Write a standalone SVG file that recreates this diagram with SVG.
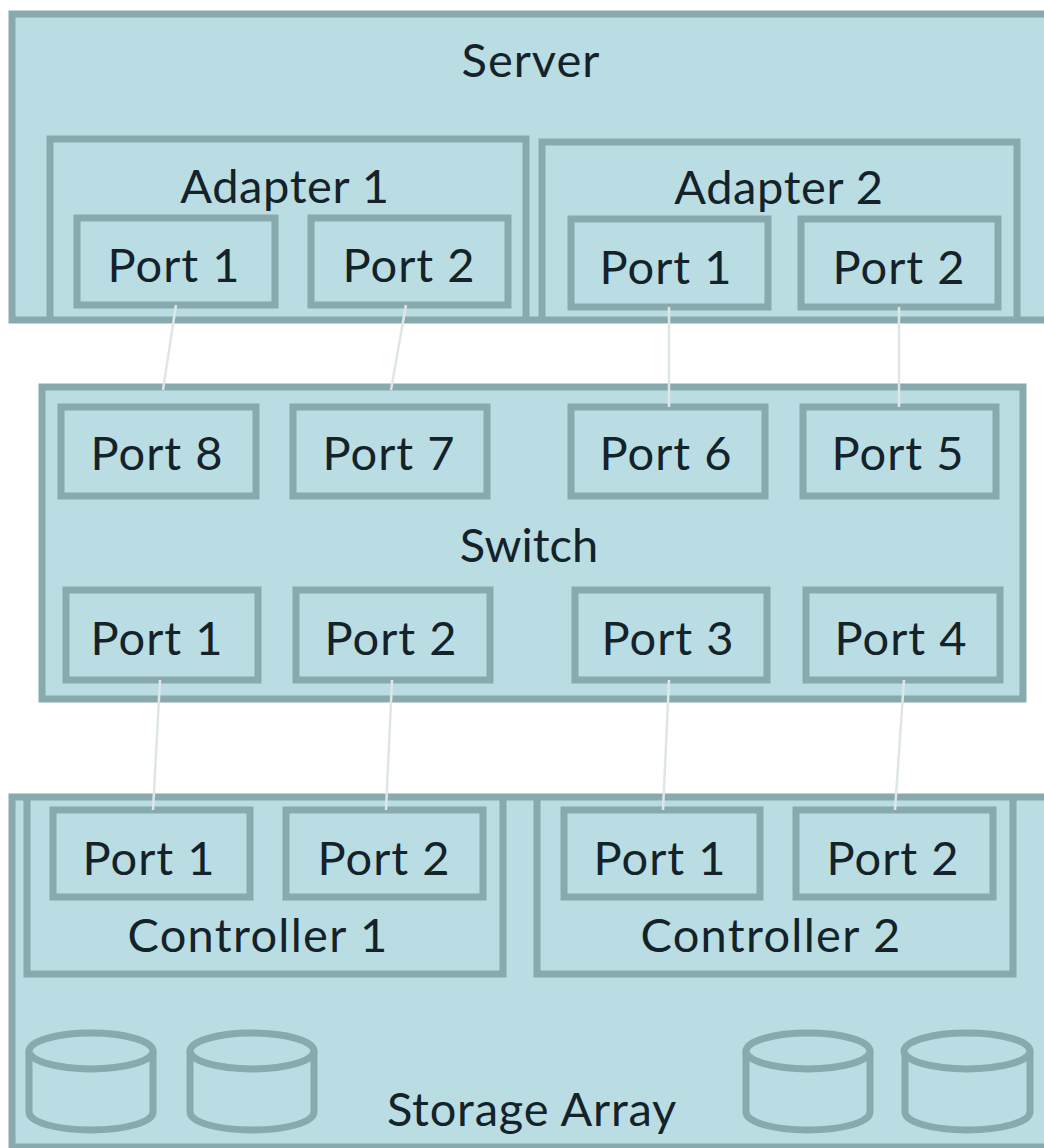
<svg xmlns="http://www.w3.org/2000/svg" width="1044" height="1148" viewBox="0 0 1044 1148">
<style>
.b{fill:#b9dde2;stroke:#88a9ad;stroke-width:7}
.i{fill:none;stroke:#88a9ad;stroke-width:7}
.c{fill:none;stroke:#dfe6e8;stroke-width:2.5}
.cy{fill:#b9dde2;stroke:#88a9ad;stroke-width:7}
text{font-family:"Lato","Liberation Sans",sans-serif;font-size:47px;fill:#14222a;text-anchor:middle;letter-spacing:1px}
.w{letter-spacing:1.3px}
.s{letter-spacing:.8px}
.n{letter-spacing:0}
.a{letter-spacing:.6px}
</style>
<rect width="1044" height="1148" fill="#fff"/>
<g id="server"><rect class="b" x="12" y="14" width="1040" height="306"/><text x="531" y="77">Server</text></g>
<g id="adapter1"><path class="i" d="M50 320V139H526V320"/><text x="285" y="203" class="a">Adapter 1</text></g>
<g id="adapter2"><path class="i" d="M542 320V142H1017V320"/><text x="779" y="204" class="a">Adapter 2</text></g>
<g id="a1p1"><rect class="i" x="77" y="218" width="198" height="87"/><text x="174" y="282">Port 1</text></g>
<g id="a1p2"><rect class="i" x="311" y="218" width="197" height="87"/><text x="409" y="282">Port 2</text></g>
<g id="a2p1"><rect class="i" x="571" y="219" width="197" height="88"/><text x="666" y="284">Port 1</text></g>
<g id="a2p2"><rect class="i" x="801" y="219" width="197" height="88"/><text x="899" y="284">Port 2</text></g>
<g id="switch"><rect class="b" x="42" y="387" width="981" height="312"/><text x="529" y="562" class="n">Switch</text></g>
<g id="sp8"><rect class="i" x="61" y="407" width="195" height="89"/><text x="157" y="470">Port 8</text></g>
<g id="sp7"><rect class="i" x="293" y="407" width="194" height="89"/><text x="389" y="470">Port 7</text></g>
<g id="sp6"><rect class="i" x="571" y="407" width="194" height="89"/><text x="666" y="470">Port 6</text></g>
<g id="sp5"><rect class="i" x="803" y="407" width="193" height="89"/><text x="898" y="470">Port 5</text></g>
<g id="sp1"><rect class="i" x="66" y="590" width="192" height="90"/><text x="157" y="655">Port 1</text></g>
<g id="sp2"><rect class="i" x="296" y="590" width="194" height="90"/><text x="391" y="655">Port 2</text></g>
<g id="sp3"><rect class="i" x="575" y="590" width="192" height="90"/><text x="668" y="655">Port 3</text></g>
<g id="sp4"><rect class="i" x="806" y="590" width="194" height="90"/><text x="901" y="655">Port 4</text></g>
<g id="storage"><rect class="b" x="12" y="797" width="1040" height="350"/><text x="532" y="1126" class="s">Storage Array</text></g>
<g id="controller1"><path class="i" d="M27 797V974H503V797"/><text x="258" y="952" class="w">Controller 1</text></g>
<g id="controller2"><path class="i" d="M537 797V974H1013V797"/><text x="771" y="952" class="w">Controller 2</text></g>
<g id="c1p1"><rect class="i" x="53" y="810" width="197" height="87"/><text x="149" y="875">Port 1</text></g>
<g id="c1p2"><rect class="i" x="286" y="810" width="197" height="87"/><text x="384" y="875">Port 2</text></g>
<g id="c2p1"><rect class="i" x="564" y="810" width="196" height="87"/><text x="660" y="875">Port 1</text></g>
<g id="c2p2"><rect class="i" x="796" y="810" width="197" height="87"/><text x="893" y="875">Port 2</text></g>
<g id="disk1"><path class="cy" d="M29 1051V1112C29 1122 56 1130 91 1130S153 1122 153 1112V1051"/><ellipse class="cy" cx="91" cy="1051" rx="62" ry="18"/></g>
<g id="disk2"><path class="cy" d="M190 1051V1112C190 1122 217 1130 252 1130S314 1122 314 1112V1051"/><ellipse class="cy" cx="252" cy="1051" rx="62" ry="18"/></g>
<g id="disk3"><path class="cy" d="M746 1051V1112C746 1122 773 1130 808 1130S870 1122 870 1112V1051"/><ellipse class="cy" cx="808" cy="1051" rx="62" ry="18"/></g>
<g id="disk4"><path class="cy" d="M905 1051V1112C905 1122 932 1130 967 1130S1030 1122 1030 1112V1051"/><ellipse class="cy" cx="967" cy="1051" rx="63" ry="18"/></g>
<g id="connectors">
<path class="c" d="M176 305L163 390M406 305L391 390M669 307V407M899 307V407M160 680L153 810M392 680L386 810M669 680L663 810M904 680L895 810"/>
</g>
</svg>
